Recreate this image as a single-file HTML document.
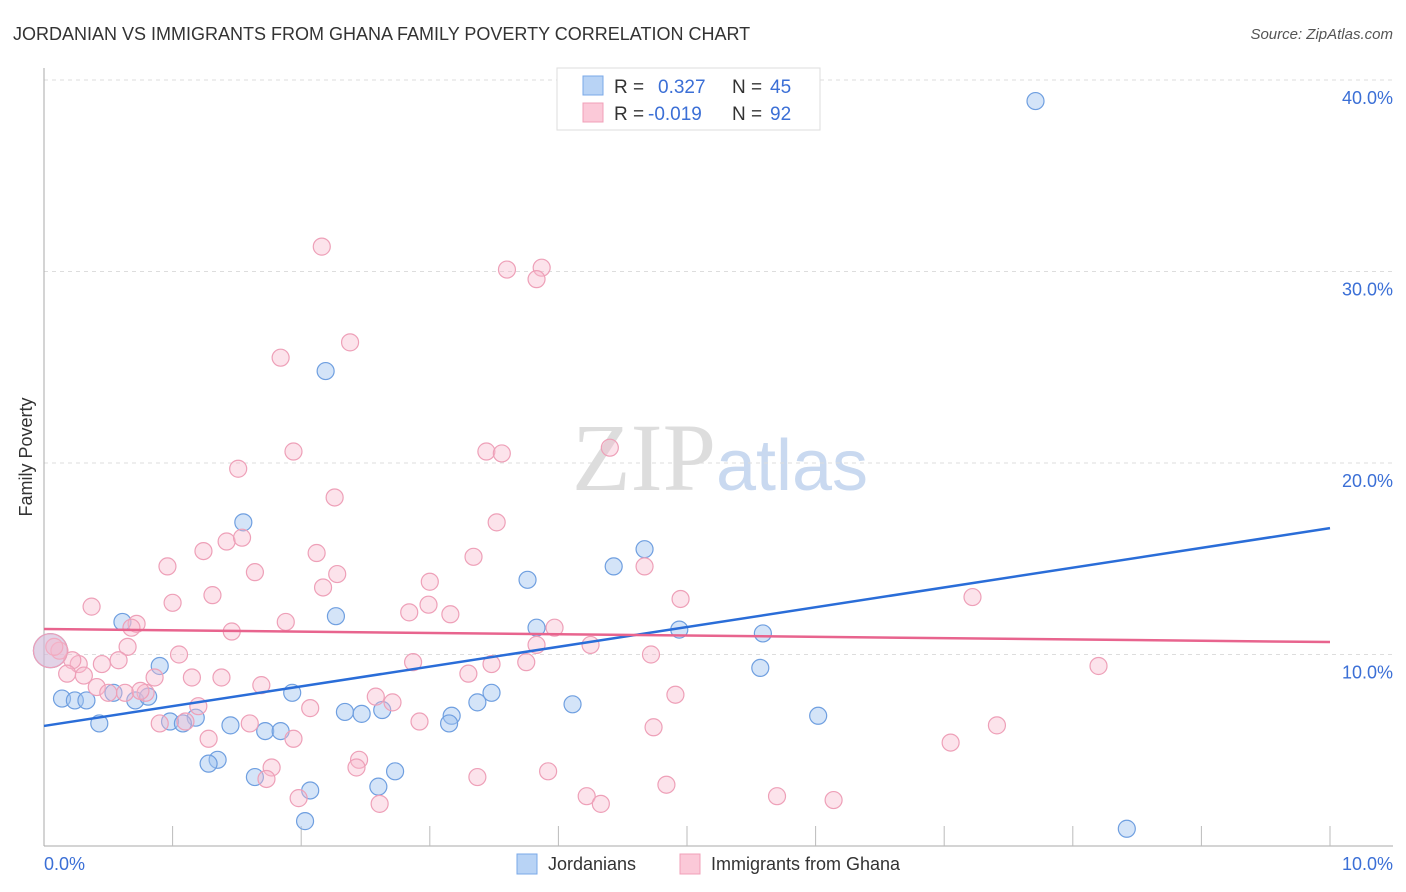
<!DOCTYPE html>
<html><head><meta charset="utf-8"><style>
body{margin:0;background:#fff;font-family:"Liberation Sans",sans-serif;}
svg{display:block}
</style></head><body>
<svg id="chart" width="1406" height="892">
<text x="13" y="40" font-size="18" fill="#333">JORDANIAN VS IMMIGRANTS FROM GHANA FAMILY POVERTY CORRELATION CHART</text>
<text x="1393" y="39" font-size="15" fill="#555" font-style="italic" text-anchor="end">Source: ZipAtlas.com</text>
<text x="32" y="457" font-size="18" fill="#333" text-anchor="middle" transform="rotate(-90 32 457)">Family Poverty</text>
<text x="720" y="490" font-size="96" fill="#ddd" text-anchor="middle" font-family="Liberation Serif,serif">ZIP<tspan fill="#c9d9f0" font-family="Liberation Sans,sans-serif" font-size="72">atlas</tspan></text>
<g id="grid"></g><g id="axes"></g><g id="pts"></g><g id="lines"></g>
<g>
<rect x="557" y="68" width="263" height="62" fill="#fff" stroke="#ddd"/>
<rect x="583" y="76" width="20" height="19" fill="#b8d3f5" stroke="#7aa8e8"/>
<rect x="583" y="103" width="20" height="19" fill="#fbc9d8" stroke="#f0a0b8"/>
<text x="614" y="93" font-size="19" fill="#333">R = </text><text x="658" y="93" font-size="19" fill="#3b6fd6">0.327</text>
<text x="732" y="93" font-size="19" fill="#333">N = </text><text x="770" y="93" font-size="19" fill="#3b6fd6">45</text>
<text x="614" y="120" font-size="19" fill="#333">R = </text><text x="648" y="120" font-size="19" fill="#3b6fd6">-0.019</text>
<text x="732" y="120" font-size="19" fill="#333">N = </text><text x="770" y="120" font-size="19" fill="#3b6fd6">92</text>
</g>
<g>
<rect x="517" y="854" width="20" height="20" fill="#b8d3f5" stroke="#7aa8e8"/>
<text x="548" y="870" font-size="18" fill="#333">Jordanians</text>
<rect x="680" y="854" width="20" height="20" fill="#fbc9d8" stroke="#f0a0b8"/>
<text x="711" y="870" font-size="18" fill="#333">Immigrants from Ghana</text>
</g>
</svg>
<script>
const blueX=[7.71,2.19,1.55,4.67,4.43,3.76,2.27,0.61,3.83,4.94,5.59,0.90,5.57,0.14,0.24,0.33,0.71,0.54,1.93,0.81,3.48,3.37,4.11,2.34,2.47,2.63,3.17,6.02,1.18,0.98,1.08,0.43,1.45,3.15,1.72,1.84,1.35,1.28,2.73,1.64,2.60,2.07,2.03,8.42,0.05];
const blueY=[38.9,24.8,16.9,15.5,14.6,13.9,12.0,11.7,11.4,11.3,11.1,9.4,9.3,7.7,7.6,7.6,7.6,8.0,8.0,7.8,8.0,7.5,7.4,7.0,6.9,7.1,6.8,6.8,6.7,6.5,6.4,6.4,6.3,6.4,6.0,6.0,4.5,4.3,3.9,3.6,3.1,2.9,1.3,0.9,10.2];
const pinkX=[2.16,3.60,3.87,3.83,2.38,1.84,1.94,3.44,3.56,4.40,1.51,2.26,3.52,1.24,1.42,1.54,2.12,3.34,0.96,1.64,2.28,2.17,3.00,4.67,1.31,1.00,0.37,4.95,7.22,2.84,2.99,3.16,1.88,0.72,3.97,0.68,1.46,0.65,4.25,3.83,1.05,4.72,0.58,0.45,0.27,2.87,3.48,3.75,8.20,0.22,0.18,0.31,0.86,1.15,1.38,3.30,1.69,0.41,0.50,0.79,2.58,4.91,2.71,1.20,2.07,2.92,0.90,1.10,1.60,7.41,4.74,1.28,1.94,7.05,2.45,2.43,1.77,1.73,3.37,3.92,4.84,4.22,5.70,1.98,4.33,6.14,2.61,0.63,0.75,0.12,0.08,0.05];
const pinkY=[31.3,30.1,30.2,29.6,26.3,25.5,20.6,20.6,20.5,20.8,19.7,18.2,16.9,15.4,15.9,16.1,15.3,15.1,14.6,14.3,14.2,13.5,13.8,14.6,13.1,12.7,12.5,12.9,13.0,12.2,12.6,12.1,11.7,11.6,11.4,11.4,11.2,10.4,10.5,10.5,10.0,10.0,9.7,9.5,9.5,9.6,9.5,9.6,9.4,9.7,9.0,8.9,8.8,8.8,8.8,9.0,8.4,8.3,8.0,8.0,7.8,7.9,7.5,7.3,7.2,6.5,6.4,6.5,6.4,6.3,6.2,5.6,5.6,5.4,4.5,4.1,4.1,3.5,3.6,3.9,3.2,2.6,2.6,2.5,2.2,2.4,2.2,8.0,8.1,10.2,10.4,10.2];
const blueTrend=[6.27,16.6];
const pinkTrend=[11.33,10.65];
const yTicks=[10,20,30,40];
const xTickLabels=["0.0%","10.0%"];
const NS='http://www.w3.org/2000/svg';
const X0=44,X1=1330,Y0=846,PY=19.15;
const sx=v=>X0+v*(X1-X0)/10, sy=v=>Y0-v*PY;
function mk(t,a,p){const e=document.createElementNS(NS,t);for(const k in a)e.setAttribute(k,a[k]);p.appendChild(e);return e;}
const grid=document.getElementById('grid'),axes=document.getElementById('axes'),pts=document.getElementById('pts'),lines=document.getElementById('lines');
yTicks.forEach(t=>{const l=mk('line',{x1:44,x2:1393,y1:sy(t),y2:sy(t),stroke:'#ddd','stroke-dasharray':'4,4'},grid);


const tx=mk('text',{x:1393,y:sy(t)+24,'font-size':18,fill:'#3b6fd6','text-anchor':'end'},grid);tx.textContent=t.toFixed(1)+'%';

});
mk('line',{x1:44,x2:44,y1:68,y2:846,stroke:'#aaa'},axes);
mk('line',{x1:44,x2:1393,y1:846,y2:846,stroke:'#aaa'},axes);
for(let i=1;i<=10;i++){mk('line',{x1:sx(i),x2:sx(i),y1:826,y2:846,stroke:'#bbb'},axes);}
const a=mk('text',{x:44,y:870,'font-size':18,fill:'#3b6fd6'},axes);a.textContent=xTickLabels[0];


const b=mk('text',{x:1393,y:870,'font-size':18,fill:'#3b6fd6','text-anchor':'end'},axes);b.textContent=xTickLabels[1];


function dots(xs,ys,fill,stroke,name){xs.forEach((x,i)=>{const big=(x<0.1&&Math.abs(ys[i]-10.2)<0.05);
const c=mk('circle',{cx:sx(x),cy:sy(ys[i]),r:big?17:8.5,fill:fill,stroke:stroke,'stroke-width':1.2},pts);

});}
dots(blueX,blueY,'rgba(160,195,240,0.45)','#6f9fe0','point-jordanian');
dots(pinkX,pinkY,'rgba(248,185,205,0.4)','#eea0b8','point-ghana');
const bl=mk('line',{x1:sx(0),y1:sy(blueTrend[0]),x2:sx(10),y2:sy(blueTrend[1]),stroke:'#2a6dd8','stroke-width':2.5},lines);


const pl=mk('line',{x1:sx(0),y1:sy(pinkTrend[0]),x2:sx(10),y2:sy(pinkTrend[1]),stroke:'#e8648e','stroke-width':2.5},lines);


</script>
</body></html>
